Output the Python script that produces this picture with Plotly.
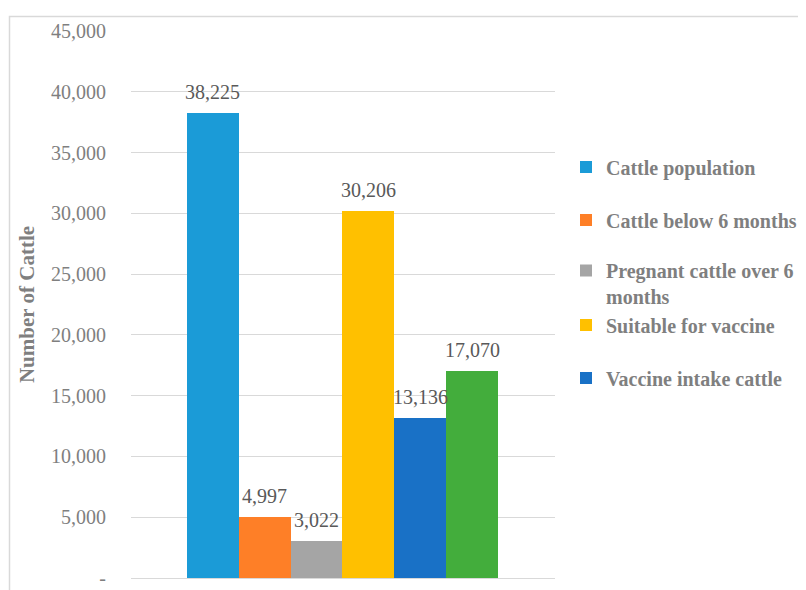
import plotly.graph_objects as go

series_keys = ["pop", "below6", "pregnant", "suitable", "intake", "sixth"]
series_names = [
    "Cattle population",
    "Cattle below 6 months",
    "Pregnant cattle over 6<br>months",
    "Suitable for vaccine",
    "Vaccine intake cattle",
    "Sixth series (no legend entry)",
]
series_values = [38225, 4997, 3022, 30206, 13136, 17070]
series_colors = ["#1b9bd7", "#fe7f27", "#a5a5a5", "#ffc000", "#1971c6", "#43ad3c"]
show_in_legend = [True, True, True, True, True, False]
y_tick_values = [0, 5000, 10000, 15000, 20000, 25000, 30000, 35000, 40000, 45000]
y_tick_labels = ["-", "5,000", "10,000", "15,000", "20,000", "25,000",
                 "30,000", "35,000", "40,000", "45,000"]
y_title = "Number of Cattle"

SERIF = "Liberation Serif"

# The page body adds an 8px margin; lay out in page pixels and convert.
OFF = 8
W, H = 806 - OFF, 590 - OFF
L, R, T, B = 131 - OFF, 555 - OFF, 31 - OFF, 578 - OFF
pw, ph = R - L, B - T

def px_x(page_px):
    return (page_px - OFF - L) / pw

def px_y(page_py):
    return (B - (page_py - OFF)) / ph

fig = go.Figure()
legend_ids = ["legend", "legend2", "legend3", "legend4", "legend5", None]
for i in range(len(series_keys)):
    kw = {}
    if legend_ids[i]:
        kw["legend"] = legend_ids[i]
    fig.add_trace(go.Bar(
        x=[series_keys[i]], y=[series_values[i]], name=series_names[i],
        marker=dict(color=series_colors[i], line=dict(width=0)),
        showlegend=show_in_legend[i], **kw,
    ))

annotations = [
    dict(x=k, y=v, xref="x", yref="y", text=f"{v:,}", showarrow=False,
         yanchor="bottom", yshift=8,
         font=dict(family=SERIF, size=20, color="#595959"))
    for k, v in zip(series_keys, series_values)
]

legend_centers_px = [167, 220, 283.5, 325, 378]
legend_layouts = {}
for lid, cy in zip(legend_ids[:5], legend_centers_px):
    legend_layouts[lid] = dict(
        x=px_x(566), y=px_y(cy),
        xanchor="left", yanchor="middle",
        font=dict(family=SERIF, size=20, color="#7f7f7f", weight="bold"),
        bgcolor="rgba(0,0,0,0)", valign="top",
    )

fig.update_layout(
    width=W, height=H,
    margin=dict(l=L, r=W - R, t=T, b=H - B, autoexpand=False),
    paper_bgcolor="white", plot_bgcolor="white",
    barmode="overlay", bargap=0,
    showlegend=True,
    **legend_layouts,
    annotations=annotations,
    xaxis=dict(type="category", categoryorder="array", categoryarray=series_keys,
               range=[-1.58, 6.6], showticklabels=False, showline=True,
               linecolor="#d9d9d9", linewidth=1, showgrid=False, ticks="",
               fixedrange=True),
    yaxis=dict(range=[0, 45000], tickvals=y_tick_values, ticktext=y_tick_labels,
               showgrid=True, gridcolor="#d9d9d9", gridwidth=1, zeroline=False,
               showline=False, ticks="", ticklabelstandoff=24,
               tickfont=dict(family=SERIF, size=20, color="#7f7f7f"),
               title=dict(text=y_title, standoff=10,
                          font=dict(family=SERIF, size=21, color="#7f7f7f", weight="bold"))),
    shapes=[dict(type="rect", xref="paper", yref="paper",
                 x0=px_x(9.5), x1=px_x(840),
                 y0=px_y(640), y1=px_y(16.5),
                 line=dict(color="#d9d9d9", width=1.5), fillcolor="rgba(0,0,0,0)",
                 layer="below")],
)

fig.write_html("out.html")
